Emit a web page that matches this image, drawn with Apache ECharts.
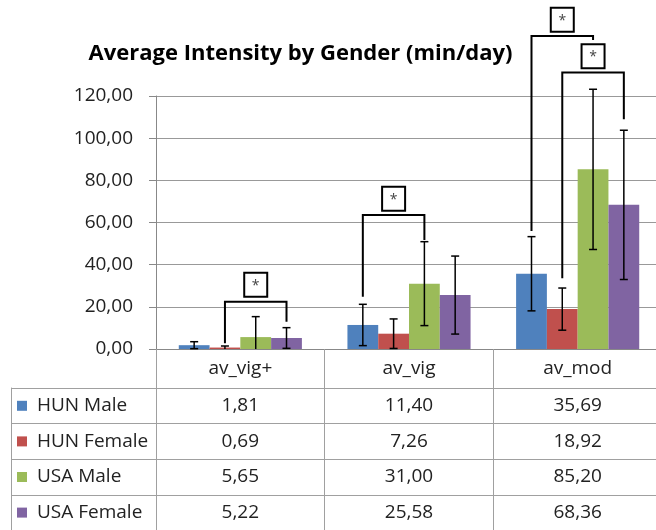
<!DOCTYPE html>
<html>
<head>
<meta charset="utf-8">
<script src="https://cdn.jsdelivr.net/npm/echarts@6/dist/echarts.min.js"></script>
<style>html,body{margin:0;padding:0;background:#fff}#c{width:656px;height:530px}</style>
</head>
<body>
<div id="c"></div>
<script>
const categories = ['av_vig+', 'av_vig', 'av_mod'];
const seriesNames = ['HUN Male', 'HUN Female', 'USA Male', 'USA Female'];
const hunMale = [1.81, 11.40, 35.69];
const hunFemale = [0.69, 7.26, 18.92];
const usaMale = [5.65, 31.00, 85.20];
const usaFemale = [5.22, 25.58, 68.36];
// error bars (± value)
const hunMaleErr = [1.65, 9.8, 17.6];
const hunFemaleErr = [0.73, 7.0, 10.0];
const usaMaleErr = [9.7, 19.9, 38.0];
const usaFemaleErr = [4.9, 18.5, 35.4];
const yTicks = [0, 20, 40, 60, 80, 100, 120];
// significance brackets
const sigCategory = [0, 1, 2, 2];
const sigLeftSeries = [1, 0, 0, 1];
const sigRightSeries = [3, 2, 2, 3];
const sigLeftEnd = [2.7, 24.8, 56.0, 33.5];
const sigRightEnd = [12.9, 51.7, 146.6, 109.0];
const sigTop = [22.4, 63.6, 148.5, 131.1];
const sigStarY = [30.5, 71.3, 156.2, 138.9];
const sigLabel = ['*', '*', '*', '*'];

const colors = ['#4F81BD', '#C0504D', '#9BBB59', '#8064A2'];
const values = [hunMale, hunFemale, usaMale, usaFemale];
const errs = [hunMaleErr, hunFemaleErr, usaMaleErr, usaFemaleErr];
const GAP = 0.27;
const FONT = 'Open Sans';
const fmt = v => v.toFixed(2).replace('.', ',');

const chart = echarts.init(document.getElementById('c'));

const errData = [];
values.forEach((arr, s) => arr.forEach((v, c) => errData.push([c, v - errs[s][c], v + errs[s][c], s])));
const sigData = sigCategory.map((c, i) => [c, sigLeftSeries[i], sigRightSeries[i], sigLeftEnd[i], sigRightEnd[i], sigTop[i], sigStarY[i], i]);
const tableData = [];
values.forEach((arr, s) => arr.forEach((v, c) => tableData.push([c, s, v])));

function barX(api, c, s) {
  const band = api.size([1, 0])[0];
  const bw = band * (1 - GAP) / 4;
  return api.coord([c, 0])[0] + (s - 1.5) * bw;
}

const rich = {};
colors.forEach((col, i) => { rich['b' + i] = { width: 10, height: 10, backgroundColor: col }; });
rich.t = { fontSize: 19, fontFamily: FONT, color: '#222', padding: [0, 0, 0, 10] };

const option = {
  backgroundColor: '#fff',
  animation: false,
  graphic: [{
    type: 'text', x: 300.5, y: 54,
    style: { text: 'Average Intensity by Gender (min/day)', textAlign: 'center', textVerticalAlign: 'middle',
      fontFamily: FONT, fontWeight: 'bold', fontSize: 22, fill: '#000' }
  }],
  grid: [
    { left: 156, top: 96, width: 506, height: 253, outerBoundsMode: 'none', containLabel: false },
    { left: 156, top: 388, width: 506, height: 142.4, outerBoundsMode: 'none', containLabel: false }
  ],
  xAxis: [
    { type: 'category', gridIndex: 0, data: categories,
      axisLine: { lineStyle: { color: '#888', width: 1 } },
      axisTick: { show: true, length: 39, alignWithLabel: false, lineStyle: { color: '#a0a0a0' } },
      axisLabel: { interval: 0, margin: 10, fontSize: 19, fontFamily: FONT, color: '#222' } },
    { type: 'category', gridIndex: 1, data: categories,
      axisLine: { show: false }, axisTick: { show: false }, axisLabel: { show: false },
      splitLine: { show: true, interval: 0, lineStyle: { color: '#a0a0a0' } } }
  ],
  yAxis: [
    { type: 'value', gridIndex: 0, min: 0, max: 120, interval: 20,
      axisLine: { show: true, lineStyle: { color: '#888' } },
      axisTick: { show: true, length: 7, lineStyle: { color: '#888' } },
      splitLine: { lineStyle: { color: '#999' } },
      axisLabel: { margin: 23, fontSize: 19, fontFamily: FONT, color: '#222',
        formatter: v => fmt(v) } },
    { type: 'category', gridIndex: 1, data: seriesNames, inverse: true,
      axisLine: { show: true, lineStyle: { color: '#a0a0a0' } },
      axisTick: { show: true, length: 145, alignWithLabel: false, interval: 0, lineStyle: { color: '#a0a0a0' } },
      splitLine: { show: true, interval: 0, lineStyle: { color: '#a0a0a0' } },
      axisLabel: { interval: 0, align: 'left', margin: 139, rich: rich,
        formatter: (v, i) => '{b' + i + '|}{t|' + v + '}' } },
    { type: 'value', gridIndex: 1, position: 'left', offset: 145,
      axisLine: { show: true, lineStyle: { color: '#a0a0a0' } },
      axisTick: { show: false }, axisLabel: { show: false }, splitLine: { show: false } }
  ],
  series: [
    ...values.map((arr, s) => ({
      type: 'bar', name: seriesNames[s], xAxisIndex: 0, yAxisIndex: 0, data: arr,
      barGap: 0, barCategoryGap: (GAP * 100) + '%', itemStyle: { color: colors[s] }
    })),
    {
      type: 'custom', xAxisIndex: 0, yAxisIndex: 0, clip: false, z: 5, data: errData,
      renderItem: (params, api) => {
        const c = api.value(0), lo = api.value(1), hi = api.value(2), s = api.value(3);
        const x = barX(api, c, s);
        const yHi = api.coord([c, hi])[1];
        const yLo = api.coord([c, Math.max(lo, 0)])[1];
        const st = { stroke: '#000', lineWidth: 1.5 };
        const ch = [
          { type: 'line', shape: { x1: x, y1: yHi, x2: x, y2: yLo }, style: st },
          { type: 'line', shape: { x1: x - 4, y1: yHi, x2: x + 4, y2: yHi }, style: st }
        ];
        if (lo >= 0) ch.push({ type: 'line', shape: { x1: x - 4, y1: yLo, x2: x + 4, y2: yLo }, style: st });
        return { type: 'group', children: ch };
      }
    },
    {
      type: 'custom', xAxisIndex: 0, yAxisIndex: 0, clip: false, z: 6, data: sigData,
      renderItem: (params, api) => {
        const c = api.value(0), sl = api.value(1), sr = api.value(2);
        const xl = barX(api, c, sl), xr = barX(api, c, sr);
        const yl = api.coord([c, api.value(3)])[1];
        const yr = api.coord([c, api.value(4)])[1];
        const yt = api.coord([c, api.value(5)])[1];
        const ys = api.coord([c, api.value(6)])[1];
        const xm = (xl + xr) / 2;
        return { type: 'group', children: [
          { type: 'polyline', shape: { points: [[xl, yl], [xl, yt], [xr, yt], [xr, yr]] },
            style: { stroke: '#000', lineWidth: 2, fill: null } },
          { type: 'rect', shape: { x: xm - 11.5, y: ys - 12, width: 23, height: 24 },
            style: { stroke: '#000', lineWidth: 2, fill: '#fff' } },
          { type: 'text', x: xm, y: ys + 1,
            style: { text: sigLabel[api.value(7)], textAlign: 'center', textVerticalAlign: 'middle',
              fontSize: 14, fontFamily: FONT, fill: '#444' } }
        ] };
      }
    },
    {
      type: 'custom', xAxisIndex: 1, yAxisIndex: 1, clip: false, data: tableData,
      renderItem: (params, api) => {
        const p = api.coord([api.value(0), api.value(1)]);
        return { type: 'text', x: p[0], y: p[1],
          style: { text: fmt(api.value(2)), textAlign: 'center', textVerticalAlign: 'middle',
            fontSize: 19, fontFamily: FONT, fill: '#222' } };
      }
    }
  ]
};
chart.setOption(option);
</script>
</body>
</html>
